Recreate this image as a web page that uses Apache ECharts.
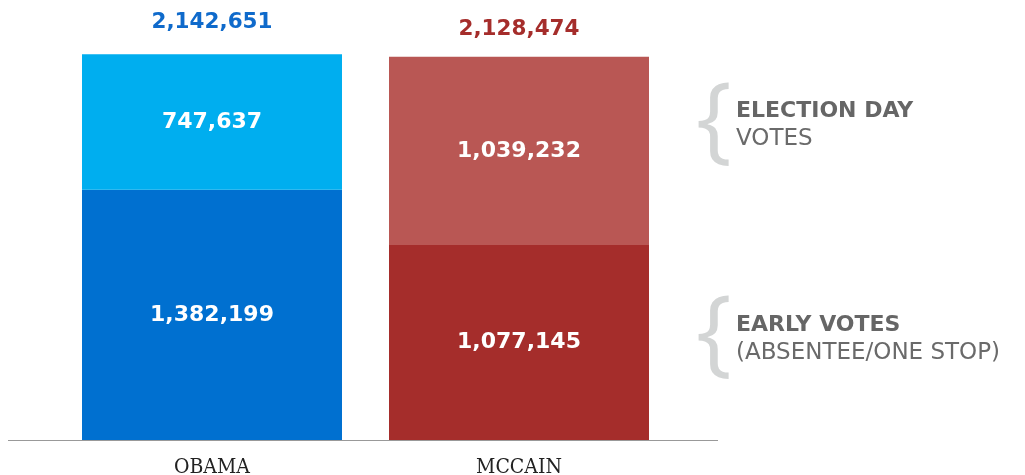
<!DOCTYPE html>
<html><head><meta charset="utf-8">
<script src="https://cdn.jsdelivr.net/npm/echarts@6/dist/echarts.min.js"></script>
<style>html,body{margin:0;padding:0;background:#fff}#c{width:1025px;height:475px}</style>
</head><body><div id="c"></div>
<script>
const categories = ['OBAMA', 'MCCAIN'];
const earlyVotes = [1382199, 1077145];
const electionDayVotes = [747637, 1039232];
const totals = [2142651, 2128474];
const earlyColors = ['#0070D0', '#A52D2B'];
const dayColors = ['#00AEEF', '#B95754'];
const totalColors = ['#0F6ACB', '#A52D2B'];

const fmt = v => v.toLocaleString('en-US');
const chart = echarts.init(document.getElementById('c'));
const font = '"DejaVu Sans", sans-serif';
chart.setOption({
  animation: false,
  grid: { left: 58.5, width: 614, top: 5.4, bottom: 35, containLabel: false, outerBoundsMode: 'none' },
  xAxis: {
    type: 'category', data: categories,
    axisLine: { show: false }, axisTick: { show: false },
    axisLabel: { color: '#222', fontFamily: '"DejaVu Serif Condensed", "DejaVu Serif", serif', fontSize: 21, margin: 17 }
  },
  yAxis: { type: 'value', min: 0, max: 2400000, show: false, splitLine: { show: false } },
  series: [
    {
      type: 'bar', stack: 'v', barWidth: 260,
      data: earlyVotes.map((v, i) => ({ value: v, itemStyle: { color: earlyColors[i] } })),
      label: { show: true, position: 'inside', color: '#fff', fontFamily: font, fontWeight: 'bold', fontSize: 22, formatter: p => fmt(p.value) }
    },
    {
      type: 'bar', stack: 'v', barWidth: 260,
      data: electionDayVotes.map((v, i) => ({ value: v, itemStyle: { color: dayColors[i] } })),
      label: { show: true, position: 'inside', color: '#fff', fontFamily: font, fontWeight: 'bold', fontSize: 22, formatter: p => fmt(p.value) }
    },
    {
      type: 'scatter', symbolSize: 0, silent: true,
      itemStyle: { opacity: 1 },
      data: totals.map((v, i) => ({
        value: [categories[i], v],
        label: { color: totalColors[i], distance: i === 0 ? 19 : 14 }
      })),
      label: { show: true, opacity: 1, position: 'top', fontFamily: font, fontWeight: 'bold', fontSize: 21.5, formatter: p => fmt(p.value[1]) }
    }
  ],
  graphic: [
    { type: 'line', shape: { x1: 8, y1: 440.5, x2: 718, y2: 440.5 }, style: { stroke: '#999', lineWidth: 1 } },
    { type: 'text', x: 696, y: 124, style: { text: '{', fill: '#d3d5d5', font: '500 95px "Open Sans", sans-serif', verticalAlign: 'middle' } },
    { type: 'text', x: 736, y: 111, style: { text: 'ELECTION DAY', fill: '#666', font: 'bold 22px ' + font, verticalAlign: 'middle' } },
    { type: 'text', x: 736, y: 139, style: { text: 'VOTES', fill: '#6a6a6a', font: '23px ' + font, verticalAlign: 'middle' } },
    { type: 'text', x: 696, y: 337, style: { text: '{', fill: '#d3d5d5', font: '500 95px "Open Sans", sans-serif', verticalAlign: 'middle' } },
    { type: 'text', x: 736, y: 325, style: { text: 'EARLY VOTES', fill: '#666', font: 'bold 22px ' + font, verticalAlign: 'middle' } },
    { type: 'text', x: 736, y: 353, style: { text: '(ABSENTEE/ONE STOP)', fill: '#6a6a6a', font: '23px ' + font, verticalAlign: 'middle' } }
  ]
});
</script></body></html>
